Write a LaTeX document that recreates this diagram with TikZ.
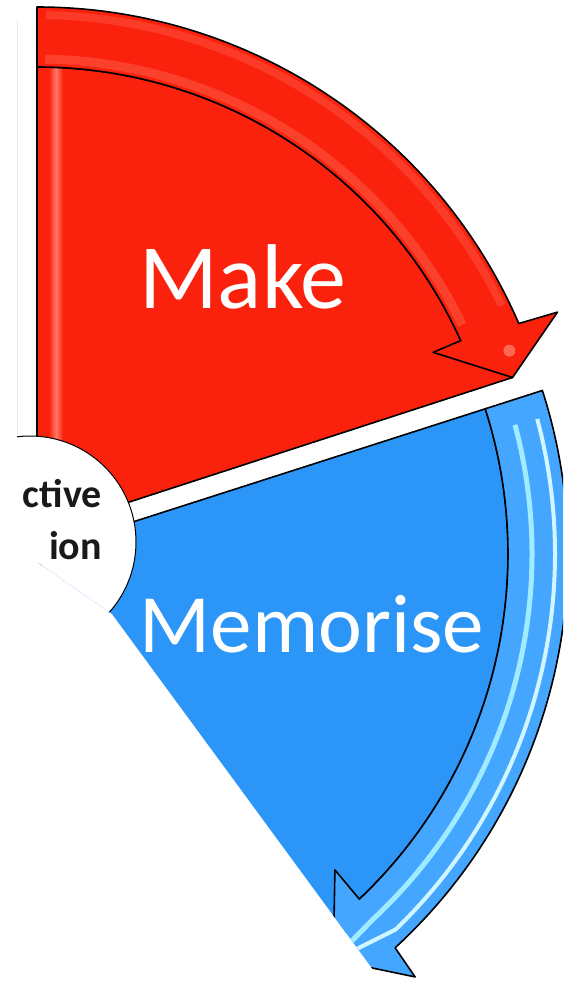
\documentclass[tikz,border=0pt]{standalone}
\usepackage{fontspec}
\setmainfont{Carlito}
\definecolor{makered}{RGB}{250,34,12}
\definecolor{makeglow}{RGB}{255,120,105}
\definecolor{memblue}{RGB}{44,150,248}
\definecolor{memband}{RGB}{68,166,255}
\definecolor{memglow}{RGB}{160,236,255}
\begin{document}
\begin{tikzpicture}[x=1pt,y=1pt,
    outline/.style={draw=black,line width=1.6pt,line join=round},
    hub/.style={circle,draw=black,line width=1pt,fill=white,minimum size=212pt,inner sep=0pt},
    hubtext/.style={align=right,inner sep=0pt,text=black!90,anchor=east,
      font=\fontsize{40}{52}\selectfont\bfseries},
    bigword/.style={text=white,inner sep=0pt,anchor=base}]
  \useasboundingbox (0,0) rectangle (563,-986);
  \coordinate (Or) at (37,-532);
  \coordinate (Ob) at (33,-554);
  \draw[black!8] (17,-20) -- (17,-435);
  \begin{scope}
    \clip (17,0) -- (563,0) -- (563,-986) -- (385,-986) -- (112,-614) -- (17,-548) -- cycle;
    \begin{scope}[shift={(Or)}]
      \fill[makered] (0,0) -- (90:465) arc[start angle=90,end angle=24.3,radius=465] -- (18:500) -- cycle;
      \shade[left color=makered,right color=makered,middle color=makeglow] (12,0) rectangle (26,465);
      \draw[outline] (0,0) -- (90:465) arc[start angle=90,end angle=24.3,radius=465] -- (18:500) -- cycle;
      \path[outline,fill=makered] (90:465) -- (90:525) arc[start angle=90,end angle=23.4,radius=525]
        -- (22.9:565) -- (18:500) -- (24.4:435) -- (24.3:465)
        arc[start angle=24.3,end angle=90,radius=465] -- cycle;
      \draw[makeglow,line width=9pt,opacity=.35] (89:473) arc[start angle=89,end angle=26,radius=473];
      \draw[makeglow,line width=8pt,opacity=.3] (89:517) arc[start angle=89,end angle=26,radius=517];
      \fill[makeglow,opacity=.8] (21:506) circle (6);
    \end{scope}
    \begin{scope}[shift={(Ob)}]
      \path[outline,fill=memblue] (0,0) -- (17.8:475) arc[start angle=17.8,end angle=-46.6,radius=475]
        -- (-53.5:505) -- cycle;
      \path[outline,fill=memband] (17.8:475) -- (17.8:535) arc[start angle=17.8,end angle=-47.4,radius=535]
        -- (-47.9:570) -- (-53.5:505) -- (-46.3:437) -- (-46.6:475)
        arc[start angle=-46.6,end angle=17.8,radius=475] -- cycle;
      \draw[memglow,line width=5pt] (15:499) arc[start angle=15,end angle=-47,radius=499] -- (-52:503);
      \draw[memglow!50!white,line width=4pt] (15:522) arc[start angle=15,end angle=-46,radius=522] -- (-51:510);
    \end{scope}
    \node[hub] (hub) at (30,-542) {};
  \end{scope}
  \node[hubtext] (hublabel) at (102,-520) {ctive\\ion};
  \node[bigword,font=\fontsize{92}{92}\selectfont] (make) at (243,-308) {Make};
  \node[bigword,font=\fontsize{83}{83}\selectfont] (memorise) at (312,-652) {Memorise};
\end{tikzpicture}
\end{document}
